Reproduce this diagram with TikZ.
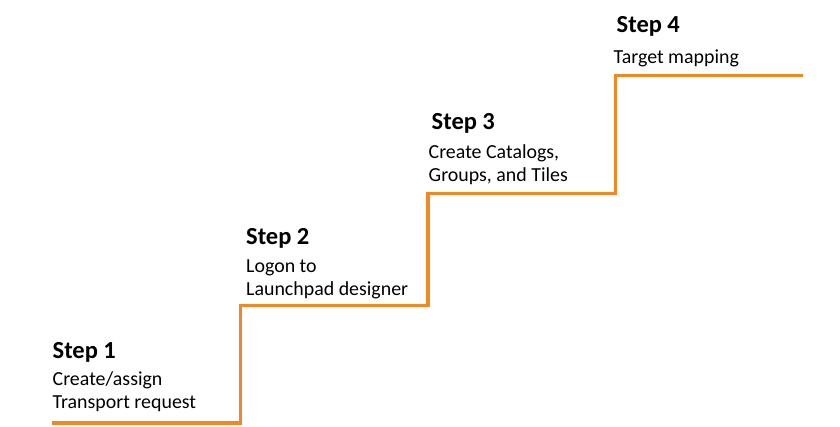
\documentclass[tikz,border=0pt]{standalone}
\usepackage{fontspec}
\setmainfont{Carlito}
\definecolor{stairorange}{RGB}{242,135,38}
\tikzset{
  steptitle/.style={anchor=base west, inner sep=0pt, font=\fontsize{24.5}{29}\selectfont\bfseries},
  stepbody/.style={anchor=base west, inner sep=0pt, font=\fontsize{19.9}{23}\selectfont},
  stair/.style={draw=stairorange, line width=3.2pt, line join=miter}
}
\begin{document}
\begin{tikzpicture}[x=1pt,y=-1pt]
\useasboundingbox (0,0) rectangle (840,427);
\fill[white] (0,0) rectangle (840,427);
% staircase
\coordinate (p0) at (52,423);
\coordinate (p1) at (240.5,423);
\coordinate (p2) at (240.5,305.5);
\coordinate (p3) at (428,305.5);
\coordinate (p4) at (428,193.5);
\coordinate (p5) at (615.5,193.5);
\coordinate (p6) at (615.5,75.5);
\coordinate (p7) at (803,75.5);
\draw[stair] (p0) -- (p1) -- (p2) -- (p3) -- (p4) -- (p5) -- (p6) -- (p7);
% step 1
\node[steptitle] (s1t) at (52.5,358) {Step 1};
\node[stepbody] (s1a) at (52.5,385) {Create/assign};
\node[stepbody] (s1b) at (52.5,408) {Transport request};
% step 2
\node[steptitle] (s2t) at (246,244.5) {Step 2};
\node[stepbody] (s2a) at (246,273) {Logon to};
\node[stepbody] (s2b) at (246,296) {Launchpad designer};
% step 3
\node[steptitle] (s3t) at (431.5,130) {Step 3};
\node[stepbody] (s3a) at (428.5,158.5) {Create Catalogs,};
\node[stepbody] (s3b) at (428.5,181.5) {Groups, and Tiles};
% step 4
\node[steptitle] (s4t) at (616.5,33) {Step 4};
\node[stepbody] (s4a) at (613.5,64) {Target mapping};
\end{tikzpicture}
\end{document}
